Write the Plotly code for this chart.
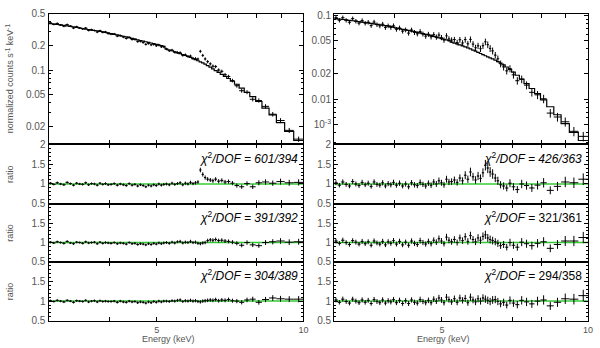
import numpy as np
import plotly.graph_objects as go

# energy grid (keV), shared by both spectra
energy_edges = [3.00, 3.05, 3.10, 3.15, 3.20, 3.25, 3.30, 3.35, 3.40, 3.45,
                3.50, 3.55, 3.60, 3.65, 3.70, 3.75, 3.80, 3.85, 3.90, 3.95,
                4.00, 4.06, 4.12, 4.18, 4.24, 4.30, 4.36, 4.42, 4.48, 4.54,
                4.60, 4.66, 4.72, 4.78, 4.84, 4.90, 4.96, 5.02, 5.08, 5.14,
                5.20, 5.27, 5.34, 5.41, 5.48, 5.55, 5.62, 5.69, 5.76, 5.83,
                5.90, 5.97, 6.04, 6.11, 6.18, 6.25, 6.32,
                6.40, 6.48, 6.56, 6.65, 6.75, 6.85, 6.96, 7.08, 7.22, 7.38,
                7.56, 7.76, 7.98, 8.22, 8.50, 8.80, 9.15, 9.55, 10.0]

# left spectrum: folded model (counts s^-1 keV^-1)
model_left = [0.378, 0.373, 0.368, 0.363, 0.358, 0.353, 0.348, 0.343, 0.338, 0.333,
              0.328, 0.323, 0.318, 0.314, 0.310, 0.306, 0.302, 0.298, 0.294, 0.290,
              0.283, 0.278, 0.273, 0.268, 0.263, 0.258, 0.253, 0.248, 0.243, 0.238,
              0.233, 0.229, 0.225, 0.221, 0.217, 0.213, 0.209, 0.205, 0.201, 0.197,
              0.183, 0.178, 0.174, 0.169, 0.164, 0.160, 0.156, 0.152, 0.148, 0.144,
              0.139, 0.135, 0.131, 0.127, 0.123, 0.119, 0.114,
              0.109, 0.104, 0.099, 0.094, 0.089, 0.084, 0.079, 0.073, 0.067, 0.060,
              0.053, 0.047, 0.041, 0.034, 0.028, 0.0225, 0.0175, 0.0135]

# right spectrum: folded model
model_right = [0.0915, 0.0905, 0.0895, 0.0885, 0.0875, 0.0865, 0.0855, 0.0845, 0.0835, 0.0825,
               0.0815, 0.0805, 0.0795, 0.0785, 0.0775, 0.0765, 0.0755, 0.0745, 0.0735, 0.0725,
               0.0705, 0.0695, 0.0684, 0.0673, 0.0662, 0.0651, 0.0640, 0.0629, 0.0618, 0.0607,
               0.0596, 0.0585, 0.0574, 0.0563, 0.0552, 0.0541, 0.0530, 0.0520, 0.0510, 0.0500,
               0.0480, 0.0468, 0.0457, 0.0446, 0.0434, 0.0422, 0.0410, 0.0398, 0.0386, 0.0374,
               0.0362, 0.0351, 0.0340, 0.0330, 0.0320, 0.0311, 0.0302,
               0.0292, 0.0281, 0.0270, 0.0256, 0.0242, 0.0227, 0.0210, 0.0193, 0.0173, 0.0153,
               0.0134, 0.0116, 0.0098, 0.0081, 0.0065, 0.0051, 0.0040, 0.0032]

# data/model ratios, left column (3 fits)
ratio_left_1 = [1.02, 0.99, 1.03, 1.00, 0.98, 1.04, 1.01, 0.97, 1.02, 1.00,
                0.99, 1.03, 0.98, 1.01, 1.00, 0.97, 1.02, 0.99, 1.01, 0.98,
                0.99, 1.01, 0.97, 1.00, 0.98, 0.96, 1.01, 0.97, 0.99, 0.95,
                0.98, 0.96, 0.93, 0.97, 0.95, 0.98, 0.96, 1.00, 0.97, 0.99,
                1.00, 0.98, 1.02, 0.99, 1.01, 1.03, 0.98, 1.02, 1.00, 1.04,
                1.01, 1.03, 1.05, 1.35, 1.24, 1.16, 1.12,
                1.10, 1.08, 1.12, 1.07, 1.09, 1.05, 1.06, 1.02, 0.96, 0.93,
                1.01, 0.93, 1.03, 1.05, 1.02, 1.06, 1.03, 1.04]
ratio_left_2 = [1.01, 0.99, 1.02, 1.00, 0.98, 1.03, 0.99, 0.97, 1.01, 1.00,
                0.98, 1.02, 0.99, 1.00, 1.01, 0.97, 1.01, 0.98, 1.00, 0.99,
                0.98, 1.00, 0.97, 0.99, 0.98, 0.96, 1.00, 0.97, 0.98, 0.95,
                0.97, 0.96, 0.94, 0.97, 0.95, 0.98, 0.96, 0.99, 0.97, 0.99,
                1.00, 0.98, 1.01, 0.99, 1.02, 1.03, 0.99, 1.01, 1.00, 1.03,
                1.00, 1.01, 0.98, 0.97, 0.99, 1.00, 1.05,
                1.07, 1.06, 1.08, 1.05, 1.06, 1.04, 1.03, 1.01, 0.98, 0.93,
                1.00, 0.94, 0.92, 1.00, 1.02, 1.04, 1.01, 1.02]
ratio_left_3 = [1.01, 0.99, 1.02, 1.00, 0.98, 1.02, 1.00, 0.97, 1.01, 1.00,
                0.99, 1.02, 0.98, 1.00, 1.01, 0.98, 1.01, 0.99, 1.00, 0.99,
                0.99, 1.00, 0.97, 1.00, 0.98, 0.97, 1.00, 0.98, 0.99, 0.96,
                0.98, 0.97, 0.95, 0.98, 0.96, 0.99, 0.97, 1.00, 0.98, 1.00,
                1.00, 0.99, 1.01, 1.00, 1.02, 1.03, 0.99, 1.01, 1.00, 1.02,
                1.00, 1.01, 0.99, 0.98, 1.00, 1.01, 1.02,
                1.03, 1.02, 1.04, 1.01, 1.03, 1.02, 1.04, 1.01, 1.00, 0.97,
                1.03, 1.05, 0.97, 1.04, 1.08, 1.06, 1.05, 1.05]

# data/model ratios, right column
ratio_right_1 = [1.03, 0.97, 1.05, 0.99, 0.95, 1.06, 1.00, 0.96, 1.04, 0.98,
                 1.02, 0.94, 1.05, 0.99, 0.97, 1.03, 0.95, 1.01, 0.98, 1.04,
                 0.97, 1.02, 0.95, 1.00, 0.93, 1.03, 0.98, 0.96, 1.04, 0.99,
                 0.95, 1.02, 0.97, 1.05, 1.00, 1.08, 1.03, 0.98, 1.12, 1.05,
                 1.06, 1.10, 1.04, 1.15, 1.08, 1.22, 1.12, 1.30, 1.18, 1.10,
                 1.20, 1.14, 1.28, 1.47, 1.40, 1.30, 1.25,
                 1.15, 1.08, 0.98, 0.95, 0.90, 1.02, 0.93, 0.86, 1.00, 0.96,
                 0.90, 0.97, 1.03, 0.84, 0.94, 1.05, 1.03, 1.12]
ratio_right_2 = [1.04, 0.98, 1.06, 1.00, 0.95, 1.05, 1.01, 0.96, 1.03, 0.97,
                 1.02, 0.93, 1.04, 0.99, 0.96, 1.03, 0.94, 1.02, 0.98, 1.05,
                 0.96, 1.03, 0.94, 1.01, 0.93, 1.04, 0.98, 0.95, 1.05, 1.00,
                 0.96, 1.03, 0.97, 1.06, 1.01, 1.10, 1.04, 0.97, 1.14, 1.06,
                 1.02, 1.08, 1.00, 1.12, 1.05, 1.15, 1.03, 1.18, 1.08, 1.02,
                 1.12, 1.06, 1.16, 1.20, 1.12, 1.08, 1.05,
                 1.02, 0.98, 0.92, 0.95, 0.88, 1.00, 0.93, 0.88, 1.01, 0.97,
                 0.92, 0.98, 1.02, 0.85, 0.95, 1.04, 1.04, 1.13]
ratio_right_3 = [1.03, 0.97, 1.05, 0.99, 0.95, 1.05, 1.00, 0.96, 1.03, 0.97,
                 1.02, 0.94, 1.04, 0.99, 0.96, 1.03, 0.95, 1.01, 0.98, 1.04,
                 0.96, 1.02, 0.94, 1.01, 0.94, 1.03, 0.97, 0.95, 1.04, 0.99,
                 0.96, 1.02, 0.96, 1.05, 1.00, 1.08, 1.03, 0.96, 1.10, 1.04,
                 0.98, 1.06, 0.97, 1.08, 1.02, 1.07, 0.96, 1.10, 1.03, 0.98,
                 1.06, 1.00, 1.08, 1.05, 1.02, 0.99, 1.03,
                 1.04, 0.99, 0.93, 0.97, 0.90, 1.02, 0.95, 0.91, 1.02, 0.98,
                 0.93, 1.00, 1.03, 0.88, 0.97, 1.06, 1.05, 1.14]

# fractional 1-sigma errors per bin
frac_err_left = [0.030, 0.028, 0.030, 0.029, 0.031, 0.030, 0.028, 0.031, 0.030, 0.029,
                 0.031, 0.030, 0.032, 0.030, 0.031, 0.032, 0.030, 0.031, 0.033, 0.032,
                 0.032, 0.031, 0.033, 0.032, 0.034, 0.033, 0.032, 0.034, 0.033, 0.035,
                 0.034, 0.033, 0.035, 0.034, 0.036, 0.035, 0.034, 0.036, 0.035, 0.037,
                 0.036, 0.037, 0.036, 0.038, 0.037, 0.039, 0.038, 0.040, 0.039, 0.041,
                 0.040, 0.042, 0.041, 0.043, 0.044, 0.045, 0.046,
                 0.045, 0.047, 0.046, 0.048, 0.047, 0.050, 0.049, 0.052, 0.054, 0.055,
                 0.057, 0.060, 0.062, 0.064, 0.066, 0.070, 0.072, 0.075]
frac_err_right = [0.060, 0.058, 0.062, 0.060, 0.061, 0.059, 0.062, 0.060, 0.063, 0.061,
                  0.062, 0.060, 0.064, 0.062, 0.063, 0.065, 0.062, 0.064, 0.066, 0.064,
                  0.065, 0.067, 0.064, 0.066, 0.068, 0.066, 0.069, 0.067, 0.070, 0.068,
                  0.071, 0.069, 0.072, 0.070, 0.073, 0.075, 0.072, 0.074, 0.076, 0.075,
                  0.076, 0.078, 0.077, 0.079, 0.080, 0.082, 0.081, 0.084, 0.083, 0.085,
                  0.086, 0.088, 0.087, 0.090, 0.092, 0.094, 0.095,
                  0.090, 0.094, 0.092, 0.096, 0.095, 0.098, 0.100, 0.103, 0.105, 0.108,
                  0.110, 0.112, 0.115, 0.118, 0.120, 0.125, 0.128, 0.130]

chi2_left = ["601/394", "391/392", "304/389"]
chi2_right = ["426/363", "321/361", "294/358"]

edges = np.array(energy_edges)
e_mid = 0.5 * (edges[:-1] + edges[1:])
e_half = 0.5 * (edges[1:] - edges[:-1])

W, H = 600, 348
FONT = "Liberation Sans, Arial, sans-serif"
GREY = "#555555"

# panel geometry in pixels
col_x = [(49, 306), (337, 593)]
row_y = [(8, 143), (143, 205), (205, 265), (265, 326)]


def xdom(c):
    return [col_x[c][0] / W, col_x[c][1] / W]


def ydom(r):
    return [1 - row_y[r][1] / H, 1 - row_y[r][0] / H]


fig = go.Figure()


def add_data(n, x, y, ey, model=None):
    ax = dict(xaxis=f"x{n}", yaxis=f"y{n}")
    if model is not None:
        # histogram-style model
        fig.add_trace(go.Scatter(
            x=list(edges), y=list(model) + [model[-1]], mode="lines",
            line=dict(color="black", width=1.2, shape="hv"),
            hoverinfo="skip", showlegend=False, **ax,
        ))
    fig.add_trace(go.Scatter(
        x=x, y=y, mode="markers",
        marker=dict(color="black", size=1),
        error_x=dict(type="data", array=e_half, width=0, thickness=1, color="black"),
        error_y=dict(type="data", array=ey, width=0, thickness=1, color="black"),
        hoverinfo="skip", showlegend=False, **ax,
    ))


columns = [
    (model_left, [ratio_left_1, ratio_left_2, ratio_left_3], frac_err_left, chi2_left),
    (model_right, [ratio_right_1, ratio_right_2, ratio_right_3], frac_err_right, chi2_right),
]

axis_base = dict(
    showline=True, linecolor="black", linewidth=1.3, mirror="ticks",
    ticks="inside", ticklen=4, tickcolor="black", tickwidth=1,
    showgrid=False, zeroline=False,
    tickfont=dict(family=FONT, size=10, color=GREY),
)

layout = {}
for c, (model, ratios, ferr, chis) in enumerate(columns):
    model = np.array(model)
    ferr = np.array(ferr)
    for r in range(4):
        n = c * 4 + r + 1
        if r == 0:
            data = model * np.array(ratios[0])
            add_data(n, e_mid, data, data * ferr, model=model)
        else:
            rat = np.array(ratios[r - 1])
            add_data(n, e_mid, rat, rat * ferr)
            fig.add_shape(type="line", xref=f"x{n} domain", yref=f"y{n}",
                          x0=0, x1=1, y0=1, y1=1,
                          line=dict(color="#33cc33", width=1.5), layer="below")
            fig.add_annotation(
                xref=f"x{n} domain", yref=f"y{n}", x=0.985, y=1.66,
                xanchor="right", yanchor="middle", showarrow=False,
                text=(f"<i>χ</i><sup>2</sup><i>/DOF = {chis[r - 1]}</i>"
                      if (c == 0 or r == 1) else
                      f"<i>χ</i><sup>2</sup><i>/DOF</i> = {chis[r - 1]}"),
                font=dict(family=FONT, size=12, color="black"),
            )

        xa = dict(axis_base, type="log", range=[np.log10(3), 1],
                  domain=xdom(c), anchor=f"y{n}",
                  tickvals=[4, 5, 6, 7, 8, 9, 10],
                  ticktext=["", "5", "", "", "", "", "10"],
                  tickfont=dict(family=FONT, size=9, color=GREY),
                  showticklabels=(r == 3))
        if r == 0:
            if c == 0:
                yvals, ytext = [0.5, 0.2, 0.1, 0.05, 0.02], ["0.5", "0.2", "0.1", "0.05", "0.02"]
                yr = [np.log10(0.0122), np.log10(0.5)]
            else:
                yvals, ytext = [0.1, 0.05, 0.02, 0.01, 0.005], ["0.1", "0.05", "0.02", "0.01", "10<sup>-3</sup>"]
                yr = [np.log10(0.0029), np.log10(0.105)]
            ya = dict(axis_base, type="log", range=yr, tickvals=yvals, ticktext=ytext,
                      minor=dict(dtick="D1", ticks="inside", ticklen=2, tickcolor="black"))
        else:
            tv = [0.5, 1, 1.5, 2] if r == 1 else [0.5, 1, 1.5]
            ya = dict(axis_base, range=[0.5, 2], tickvals=tv,
                      ticktext=[f"{v:g}" for v in tv],
                      minor=dict(dtick=0.1, ticks="inside", ticklen=2, tickcolor="black"))
        ya.update(domain=ydom(r), anchor=f"x{n}")
        layout[f"xaxis{n}" if n > 1 else "xaxis"] = xa
        layout[f"yaxis{n}" if n > 1 else "yaxis"] = ya

# axis titles
label_font = dict(family=FONT, size=9, color=GREY)
fig.add_annotation(xref="paper", yref="paper", x=10 / W, y=1 - 75 / H,
                   xanchor="center", yanchor="middle",
                   text="normalized counts s<sup>-1</sup> keV<sup>-1</sup>",
                   textangle=-90, showarrow=False, font=label_font)
for r in range(1, 4):
    yc = 0.5 * (row_y[r][0] + row_y[r][1])
    fig.add_annotation(xref="paper", yref="paper", x=10 / W, y=1 - yc / H,
                       xanchor="center", yanchor="middle",
                       text="ratio", textangle=-90, showarrow=False, font=label_font)
for xc in (170, 447):
    fig.add_annotation(xref="paper", yref="paper", x=xc / W, y=1 - 344.5 / H,
                       xanchor="center", yanchor="middle",
                       text="Energy (keV)", showarrow=False,
                       font=dict(family=FONT, size=9, color=GREY))

fig.update_layout(
    **layout,
    width=W, height=H,
    margin=dict(l=0, r=0, t=0, b=0),
    paper_bgcolor="white", plot_bgcolor="white",
    showlegend=False,
)

# drop the browser's default body margin so the figure sits at the page origin
fig.write_html("out.html", config={"displayModeBar": False},
               post_script="document.body.style.margin = '0px';")
